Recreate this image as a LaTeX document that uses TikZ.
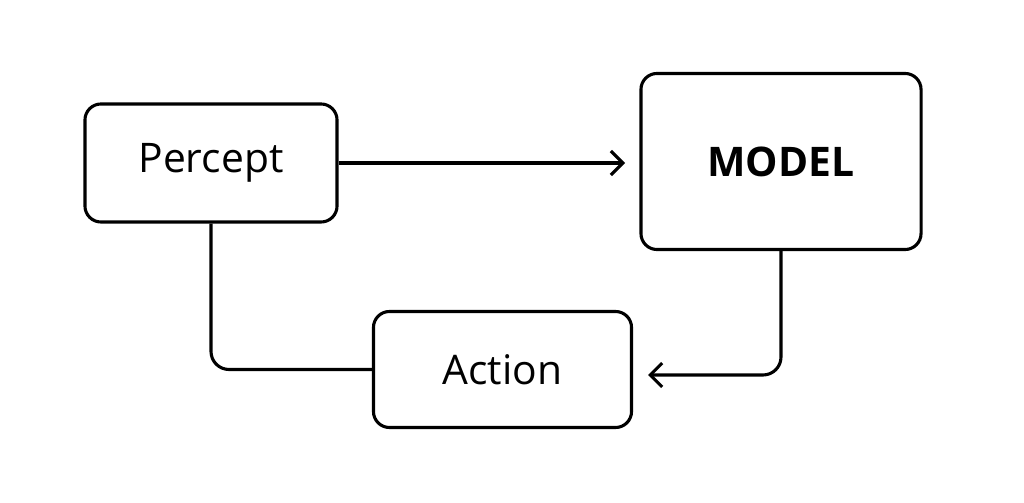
\documentclass[tikz,border=0pt]{standalone}
\usepackage{fontspec}
\setmainfont{Open Sans}
\usetikzlibrary{arrows.meta}
\begin{document}
\begin{tikzpicture}[x=0.025cm,y=-0.025cm,
  box/.style={draw,line width=2.2pt,rounded corners=0.4cm,inner sep=0pt,font=\fontsize{29pt}{32pt}\selectfont},
  conn/.style={line width=2.2pt,rounded corners=0.45cm},
  tip/.style={-{Straight Barb[length=0.3cm,width=0.6cm,line width=2.2pt]}}]
\useasboundingbox (0,0) rectangle (1024,503);
\fill[white] (0,0) rectangle (1024,503);
\node[box,minimum width=6.3cm,minimum height=2.95cm] (p) at (211,163) {Percept};
\node[box,minimum width=7.0cm,minimum height=4.4cm,font=\fontsize{29pt}{32pt}\selectfont\bfseries] (m) at (781,161.5) {MODEL};
\node[box,minimum width=6.45cm,minimum height=2.9cm] (a) at (502.5,369.5) {Action};
\draw[conn,tip] (p.east) -- (625,163);
\draw[conn] (p.south) |- (a.west);
\coordinate (e) at (648,375);
\draw[conn,tip] (m.south) |- (e);
\end{tikzpicture}
\end{document}
